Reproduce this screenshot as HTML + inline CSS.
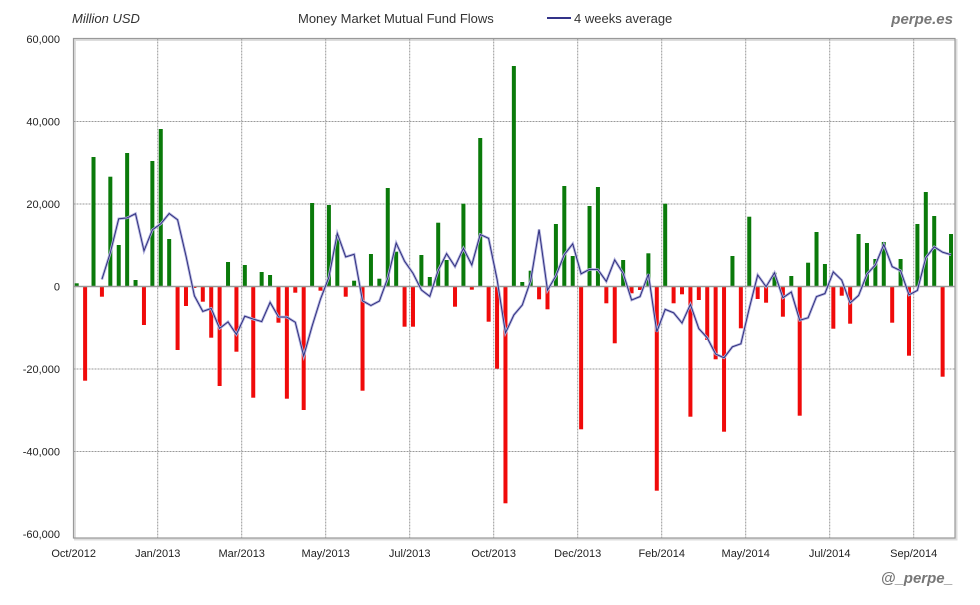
<!DOCTYPE html>
<html><head><meta charset="utf-8"><style>
body{margin:0;background:#fff;width:980px;height:600px;overflow:hidden}
svg text{font-family:"Liberation Sans",sans-serif}
</style></head><body>
<svg id="s" width="980" height="600" xmlns="http://www.w3.org/2000/svg">
<rect x="0" y="0" width="980" height="600" fill="#fff"/>
<text x="72" y="23" font-size="13" font-style="italic" fill="#333">Million USD</text>
<text x="298" y="23" font-size="13" fill="#333">Money Market Mutual Fund Flows</text>
<line x1="547" y1="18" x2="571" y2="18" stroke="#333388" stroke-width="2"/>
<text x="574" y="23" font-size="13" fill="#333">4 weeks average</text>
<text x="953" y="24" font-size="15" font-weight="bold" font-style="italic" fill="#777" text-anchor="end" font-family="Liberation Mono">perpe.es</text>
<text x="953" y="583" font-size="15" font-weight="bold" font-style="italic" fill="#777" text-anchor="end" font-family="Liberation Mono">@_perpe_</text>
<g id="g"></g>
</svg>
<script>
var g=document.getElementById('g'),ns='http://www.w3.org/2000/svg';
function el(t,a,txt){var e=document.createElementNS(ns,t);for(var k in a)e.setAttribute(k,a[k]);if(txt!=null)e.textContent=txt;g.appendChild(e);return e;}
var L=73.5,R=955,T=38.5,B=538,Z=286.5;
el('rect',{x:L+1.5,y:T+1.5,width:R-L,height:B-T,fill:'none',stroke:'#ddd','stroke-width':2});
var ylab=['60,000','40,000','20,000','0','-20,000','-40,000','-60,000'];
for(var i=0;i<7;i++){var y=39+i*82.5;
 if(i>0&&i<6&&i!=3)el('line',{x1:L,y1:y,x2:R,y2:y,stroke:'#999','stroke-dasharray':'2,1'});
 el('text',{x:60,y:y+4,'font-size':11,'text-anchor':'end',fill:'#222'},ylab[i]);}
var xl=['Oct/2012','Jan/2013','Mar/2013','May/2013','Jul/2013','Oct/2013','Dec/2013','Feb/2014','May/2014','Jul/2014','Sep/2014'];
for(var i=0;i<11;i++){var x=73.7+84*i;
 if(i>0)el('line',{x1:x,y1:T,x2:x,y2:B,stroke:'#999','stroke-dasharray':'2,1'});
 el('text',{x:x,y:557,'font-size':11,'text-anchor':'middle',fill:'#222'},xl[i]);}
var ys=[283.3,380.7,157,296.7,176.7,245,153,280,325,161,129,239,350,306,288,301.7,337.7,386,262,351.7,265,397.7,272,275,322.7,398.7,292.7,410,203,290.7,205,235,296.7,280.7,
390.7,254,278.7,188,251.7,326.7,326.7,255,277,222.7,260,306.7,203.7,289.7,138,321.7,368.7,503.3,66,282,270.7,299.3,309.3,224,186,256,429.3,206,187,303.3,343.3,260,293.3,290,253.3,490.7,203.7,
303.3,294.3,416.7,300,340,359.3,431.7,256,328.3,216.7,299,302.7,272.7,316.7,276,415.7,262.7,232,264,328.7,295.7,323.7,234,243,259,242,322.7,259,355.7,224,192,216,376.7,234];
var z0=286.6,pts=[];
for(var i=0;i<ys.length;i++){var x=76.7+8.407*i,y=ys[i];
 var up=y<z0;el('rect',{x:x-2,y:Math.min(y,z0),width:4,height:Math.abs(y-z0),fill:up?'#0a7a0a':'#f00a0a'});
 if(i>=3){var a=(ys[i]+ys[i-1]+ys[i-2]+ys[i-3])/4;pts.push(x.toFixed(1)+','+a.toFixed(1));}}
el('line',{x1:L,y1:Z,x2:R,y2:Z,stroke:'#999','stroke-width':1.5});
el('rect',{x:L,y:T,width:R-L,height:B-T,fill:'none',stroke:'#999','stroke-width':1.2});
el('polyline',{points:pts.join(' '),fill:'none',stroke:'#b0b0dc','stroke-width':2.6});
el('polyline',{points:pts.join(' '),fill:'none',stroke:'#2a2a7a','stroke-width':0.9});
</script>
</body></html>
